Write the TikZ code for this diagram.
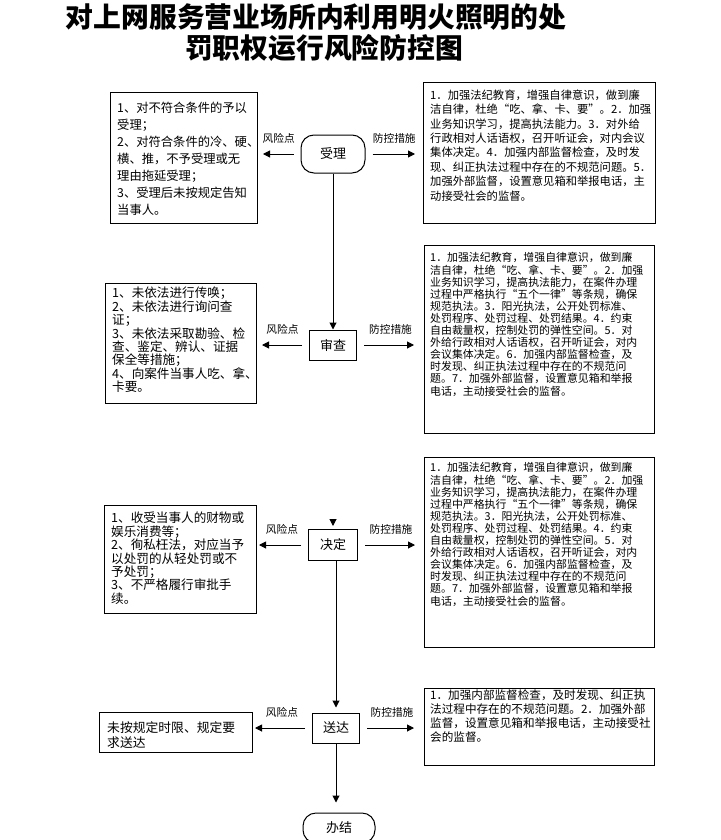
\documentclass[tikz,border=0pt]{standalone}
\usepackage{fontspec}
\setmainfont{Noto Sans CJK SC}
\usetikzlibrary{arrows.meta,calc}
\begin{document}
\begin{tikzpicture}[x=1pt,y=-1pt,
  box/.style={draw, line width=1pt, inner sep=0pt, outer sep=0pt, anchor=north west},
  txt/.style={anchor=north west, align=left, inner sep=0pt},
  lt/.style={txt, font=\fontsize{12.6}{13.4}\selectfont},
  rt/.style={txt, font=\fontsize{10.9}{12.1}\selectfont},
  proc/.style={draw, line width=1pt, inner sep=0pt, minimum width=47pt, minimum height=30pt, font=\fontsize{13}{15}\selectfont},
  roundproc/.style={proc, rounded corners=13pt},
  arr/.style={-{Triangle[length=7pt,width=7pt]}, line width=1pt},
  lbl/.style={inner sep=0pt, font=\fontsize{10.7}{12}\selectfont},
  ttl/.style={inner sep=0pt, font=\fontsize{27.8}{31}\selectfont\bfseries}]
\useasboundingbox (0,0) rectangle (720,840);
\fill[white] (0,0) rectangle (720,840);

% title
\node[ttl] (t1) at (316,17) {对上网服务营业场所内利用明火照明的处};
\node[ttl] (t2) at (324,48) {罚职权运行风险防控图};

% process nodes
\node[roundproc, minimum width=64pt, minimum height=38pt] (SL) at (333,154) {受理};
\node[proc] (SC) at (333,345) {审查};
\node[proc, minimum width=49pt, minimum height=31pt] (JD) at (333,545) {决定};
\node[proc] (SD) at (336,728) {送达};
\node[roundproc, minimum width=72pt, minimum height=30pt] (BJ) at (339,828) {办结};

% boxes
\node[box, minimum width=147pt, minimum height=130pt] (L1) at (110,93) {};
\node[box, minimum width=232pt, minimum height=140pt] (R1) at (423,83) {};
\node[box, minimum width=151pt, minimum height=120pt] (L2) at (105,283) {};
\node[box, minimum width=230pt, minimum height=188pt] (R2) at (424,245) {};
\node[box, minimum width=152pt, minimum height=108pt] (L3) at (104,505) {};
\node[box, minimum width=230pt, minimum height=190pt] (R3) at (424,457) {};
\node[box, minimum width=153pt, minimum height=40pt] (L4) at (99,712) {};
\node[box, minimum width=230pt, minimum height=77pt] (R4) at (424,688) {};

% box texts
\node[txt, font=\fontsize{12.3}{17}\selectfont] (L1t) at (117,102) {1、对不符合条件的予以\\受理；\\2、对符合条件的冷、硬、\\横、推，不予受理或无\\理由拖延受理；\\3、受理后未按规定告知\\当事人。};
\node[rt, font=\fontsize{11.3}{14.4}\selectfont] (R1t) at (430,89.5) {1．加强法纪教育，增强自律意识，做到廉\\洁自律，杜绝“吃、拿、卡、要”。2．加强\\业务知识学习，提高执法能力。3．对外给\\行政相对人话语权，召开听证会，对内会议\\集体决定。4．加强内部监督检查，及时发\\现、纠正执法过程中存在的不规范问题。5．\\加强外部监督，设置意见箱和举报电话，主\\动接受社会的监督。};

\node[lt] (L2t) at (112,287) {1、未依法进行传唤；\\2、未依法进行询问查\\证；\\3、未依法采取勘验、检\\查、鉴定、辨认、证据\\保全等措施；\\4、向案件当事人吃、拿、\\卡要。};
\node[rt] (R2t) at (430,252.5) {1．加强法纪教育，增强自律意识，做到廉\\洁自律，杜绝“吃、拿、卡、要”。2．加强\\业务知识学习，提高执法能力，在案件办理\\过程中严格执行“五个一律”等条规，确保\\规范执法。3．阳光执法，公开处罚标准、\\处罚程序、处罚过程、处罚结果。4．约束\\自由裁量权，控制处罚的弹性空间。5．对\\外给行政相对人话语权，召开听证会，对内\\会议集体决定。6．加强内部监督检查，及\\时发现、纠正执法过程中存在的不规范问\\题。7．加强外部监督，设置意见箱和举报\\电话，主动接受社会的监督。};

\node[lt] (L3t) at (111,512) {1、收受当事人的财物或\\娱乐消费等；\\2、徇私枉法，对应当予\\以处罚的从轻处罚或不\\予处罚；\\3、不严格履行审批手\\续。};
\node[rt] (R3t) at (430,462.5) {1．加强法纪教育，增强自律意识，做到廉\\洁自律，杜绝“吃、拿、卡、要”。2．加强\\业务知识学习，提高执法能力，在案件办理\\过程中严格执行“五个一律”等条规，确保\\规范执法。3．阳光执法，公开处罚标准、\\处罚程序、处罚过程、处罚结果。4．约束\\自由裁量权，控制处罚的弹性空间。5．对\\外给行政相对人话语权，召开听证会，对内\\会议集体决定。6．加强内部监督检查，及\\时发现、纠正执法过程中存在的不规范问\\题。7．加强外部监督，设置意见箱和举报\\电话，主动接受社会的监督。};

\node[txt, font=\fontsize{12.8}{15}\selectfont] (L4t) at (107,721) {未按规定时限、规定要\\求送达};
\node[rt, font=\fontsize{11.6}{14}\selectfont] (R4t) at (430,689.5) {1．加强内部监督检查，及时发现、纠正执\\法过程中存在的不规范问题。2．加强外部\\监督，设置意见箱和举报电话，主动接受社\\会的监督。};

% vertical flow
\draw[arr] (SL.south) -- (SC.north);
\coordinate (jdin) at ([yshift=10pt]JD.north);
\coordinate (jdtip) at ([yshift=3pt]JD.north);
\draw[arr] (jdin) -- (jdtip);
\draw[arr, shorten >=5pt] (SD.north |- JD.south) -- (SD.north);
\draw[arr, shorten >=10pt] (SD.south) -- (SD.south |- BJ.north);

% horizontal arrows
\draw[arr, shorten <=7pt, shorten >=6pt] (SL.west) -- node[lbl, above=10pt] (r1) {风险点} (SL.west -| L1.east);
\draw[arr, shorten <=7pt, shorten >=8pt] (SL.east) -- node[lbl, above=10pt] (m1) {防控措施} (SL.east -| R1.west);
\draw[arr, shorten <=7pt, shorten >=6pt] (SC.west) -- node[lbl, above=10pt] (r2) {风险点} (SC.west -| L2.east);
\draw[arr, shorten <=7pt, shorten >=10pt] (SC.east) -- node[lbl, above=10pt] (m2) {防控措施} (SC.east -| R2.west);
\draw[arr, shorten <=7pt, shorten >=3pt] (JD.west) -- node[lbl, above=10pt] (r3) {风险点} (JD.west -| L3.east);
\draw[arr, shorten <=7pt, shorten >=9pt] (JD.east) -- node[lbl, above=10pt] (m3) {防控措施} (JD.east -| R3.west);
\draw[arr, shorten <=7pt, shorten >=3pt] (SD.west) -- node[lbl, above=10pt] (r4) {风险点} (SD.west -| L4.east);
\draw[arr, shorten <=7pt, shorten >=10pt] (SD.east) -- node[lbl, above=10pt] (m4) {防控措施} (SD.east -| R4.west);
\end{tikzpicture}
\end{document}
